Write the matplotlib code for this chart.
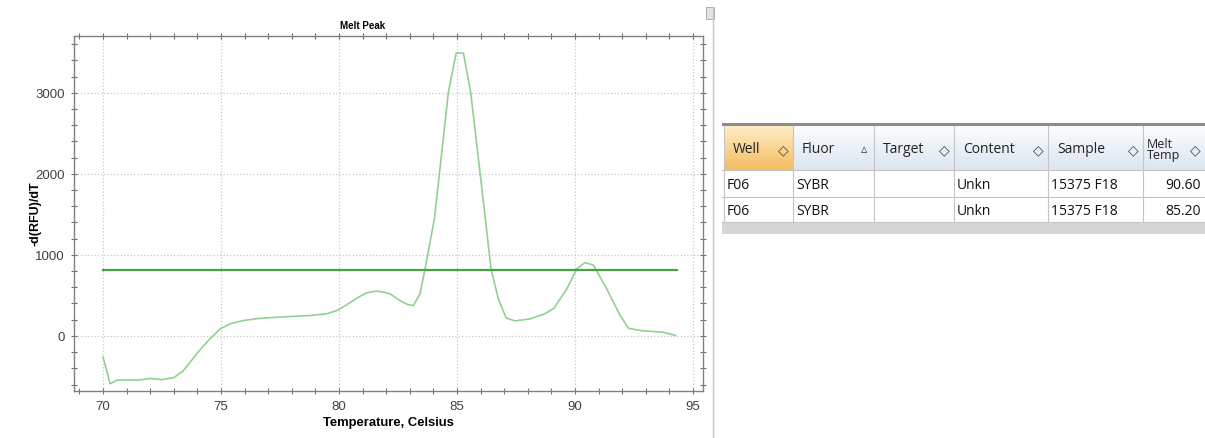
import numpy as np
import matplotlib
matplotlib.use('Agg')
import matplotlib.pyplot as plt
from matplotlib.colors import LinearSegmentedColormap
from matplotlib.patches import Rectangle
from matplotlib.ticker import MultipleLocator

plt.rcParams['font.family'] = ['Liberation Sans', 'DejaVu Sans']

# melt peak curve, -d(RFU)/dT against temperature
temp = [70.0, 70.3, 70.6, 71.0, 71.5, 72.0, 72.5, 73.0, 73.4, 73.8,
        74.2, 74.53, 74.96, 75.4, 75.95, 76.6, 77.36, 78.0, 78.77, 79.47,
        79.9, 80.25, 80.6, 80.9, 81.17, 81.45, 81.67, 81.9, 82.16, 82.58,
        82.94, 83.15, 83.43, 83.64, 84.04, 84.63, 84.96, 85.27, 85.58, 86.2,
        86.44, 86.75, 87.08, 87.46, 88.1, 88.7, 89.1, 89.65, 90.07, 90.42,
        90.78, 91.34, 91.9, 92.26, 92.75, 93.74, 94.26]
dfdt = [-260, -590, -545, -545, -545, -525, -540, -515, -430, -284,
        -140, -37, 86, 150, 190, 215, 230, 240, 251, 272,
        312, 370, 436, 490, 530, 548, 551, 540, 518, 436,
        383, 375, 518, 820, 1444, 3000, 3490, 3490, 3000, 1444,
        820, 457, 220, 185, 210, 270, 340, 580, 827, 904,
        872, 580, 257, 95, 66, 45, 5]
threshold = 818
thr_temp = [70.0, 94.3]

# peak table
columns = ['Well', 'Fluor', 'Target', 'Content', 'Sample', 'Melt\nTemp']
sort_marks = ['\u25c7', '\u25b5', '\u25c7', '\u25c7', '\u25c7', '\u25c7']
rows = [['F06', 'SYBR', '', 'Unkn', '15375 F18', '90.60'],
        ['F06', 'SYBR', '', 'Unkn', '15375 F18', '85.20']]

W, H = 1205, 439
fig = plt.figure(figsize=(W / 100, H / 100), dpi=100)
fig.patch.set_facecolor('white')

ax = fig.add_axes([74 / W, 1 - 392 / H, (703 - 74) / W, (392 - 37) / H])
ax.plot(temp, dfdt, color='#92d092', lw=1.2)
ax.plot(thr_temp, [threshold, threshold], color='#45a245', lw=1.6)
ax.set_xlim(68.77, 95.42)
ax.set_ylim(-680, 3700)
ax.xaxis.set_major_locator(MultipleLocator(5))
ax.xaxis.set_minor_locator(MultipleLocator(1))
ax.yaxis.set_major_locator(MultipleLocator(1000))
ax.yaxis.set_minor_locator(MultipleLocator(200))
ax.grid(True, which='major', color='#c8c8c8', ls=':', lw=0.9)
ax.tick_params(which='both', direction='inout', top=True, right=True,
               color='#707070', length=5, width=0.8, labelsize=9.5,
               labelcolor='#404040', pad=4)
for s in ax.spines.values():
    s.set_color('#808080')
    s.set_linewidth(1.0)
ax.set_title('Melt Peak', fontsize=7, fontweight='bold', x=0.458, pad=6)
ax.set_xlabel('Temperature, Celsius', fontsize=9.4, fontweight='bold', labelpad=3)
ax.set_ylabel('-d(RFU)/dT', fontsize=9, fontweight='bold')
ax.yaxis.set_label_coords((42 - 74) / 629, (392 - 214) / 355)

# panel border and corner button
fig.add_artist(plt.Line2D([713 / W, 713 / W], [0, 1 - 8 / H],
                          transform=fig.transFigure, color='#c8c8c8', lw=1))
fig.add_artist(Rectangle((706 / W, 1 - 20 / H), 8 / W, 12 / H,
                         transform=fig.transFigure, fc='#e4e4e4',
                         ec='#a0a0a0', lw=0.6))

# table drawn in pixel coordinates
tx = fig.add_axes([0, 0, 1, 1], zorder=-1)
tx.axis('off')

edges = [724, 793, 874, 954, 1048, 1143, 1212]
y_top, y_head, y_r1, y_r2, y_bar = 127, 171, 198, 223, 235

tx.add_patch(Rectangle((722, 124), W - 722, 3, fc='#8c8c8c', ec='none'))
grad = np.linspace(0, 1, 64).reshape(-1, 1)
head_cmap = LinearSegmentedColormap.from_list('h', ['#fbfcfe', '#dce5f0'])
well_cmap = LinearSegmentedColormap.from_list('w', ['#feecc4', '#f5bd62'])
tx.imshow(grad, cmap=head_cmap, aspect='auto',
          extent=(edges[1], W, y_head, y_top), origin='upper')
tx.imshow(grad, cmap=well_cmap, aspect='auto',
          extent=(edges[0], edges[1], y_head, y_top), origin='upper')
tx.add_patch(Rectangle((722, y_r2), W - 722, y_bar - y_r2, fc='#d6d6d6', ec='none'))
tx.set_xlim(0, W)
tx.set_ylim(H, 0)

line_c = '#c4c4c4'
for x in edges[:-1]:
    tx.plot([x, x], [y_top, y_r2], color=line_c, lw=0.8)
for y in [y_head, y_r1, y_r2]:
    tx.plot([722, W], [y, y], color=line_c, lw=0.8)

ui_font = ['Open Sans', 'DejaVu Sans']
for i, name in enumerate(columns):
    x0, x1 = edges[i], min(edges[i + 1], 1205)
    yc = (y_top + y_head) / 2 + 1
    if '\n' in name:
        tx.text(x0 + 4, yc, name, fontsize=9, family=ui_font, color='#222222',
                va='center', ha='left', linespacing=0.85)
    else:
        tx.text(x0 + 9, yc, name, fontsize=10, family=ui_font, color='#222222',
                va='center', ha='left')
    mark_size = 9 if sort_marks[i] == '\u25b5' else 10
    tx.text(x1 - 10, yc, sort_marks[i], fontsize=mark_size,
            family=['DejaVu Sans'], color='#444444', va='center', ha='center')

for r, row in enumerate(rows):
    yc = [(y_head + y_r1) / 2, (y_r1 + y_r2) / 2][r] + 1
    for i, val in enumerate(row):
        if i == len(row) - 1:
            tx.text(1201, yc, val, fontsize=10, family=ui_font,
                    color='#111111', va='center', ha='right')
        else:
            tx.text(edges[i] + 3, yc, val, fontsize=10, family=ui_font,
                    color='#111111', va='center', ha='left')

fig.savefig('out.png', dpi=100)
